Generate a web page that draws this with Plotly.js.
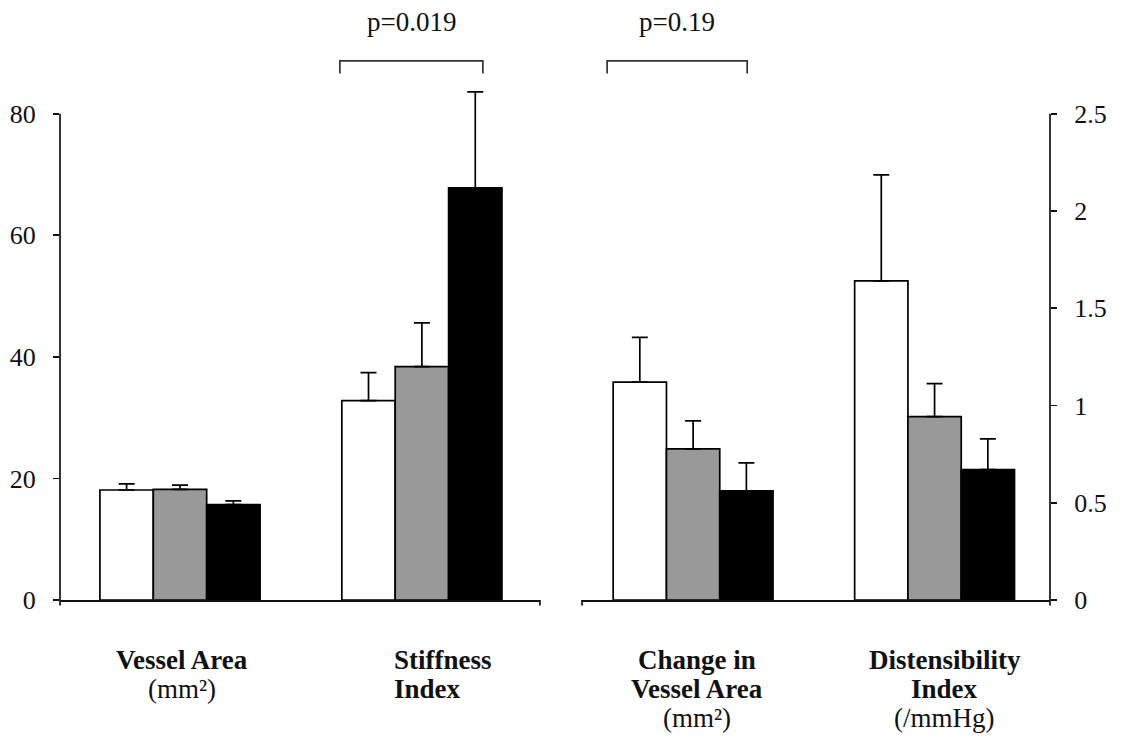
<!DOCTYPE html>
<html>
<head>
<meta charset="utf-8">
<script src="https://cdn.plot.ly/plotly-3.0.1.min.js"></script>
<style>html,body{margin:0;padding:0;background:#fff;}#chart{width:1126px;height:740px;}</style>
</head>
<body>
<div id="chart"></div>
<script>
// ---- data ----
var leftCategories = ['Vessel Area', 'Stiffness Index'];
var rightCategories = ['Change in Vessel Area', 'Distensibility Index'];

var leftWhite = [18.1, 32.8];
var leftGray = [18.2, 38.4];
var leftBlack = [15.7, 67.8];
var leftWhiteErr = [1.0, 4.6];
var leftGrayErr = [0.7, 7.2];
var leftBlackErr = [0.6, 15.8];

var rightWhite = [1.12, 1.641];
var rightGray = [0.777, 0.943];
var rightBlack = [0.561, 0.670];
var rightWhiteErr = [0.23, 0.545];
var rightGrayErr = [0.144, 0.170];
var rightBlackErr = [0.144, 0.158];

var leftTicks = [0, 20, 40, 60, 80];
var rightTicks = [0, 0.5, 1, 1.5, 2, 2.5];
var rightTickText = ['0', '0.5', '1', '1.5', '2', '2.5'];

var labelBoldLines = [['Vessel Area'], ['Stiffness', 'Index'], ['Change in', 'Vessel Area'], ['Distensibility', 'Index']];
var labelUnits = ['(mm\u00B2)', '', '(mm\u00B2)', '(/mmHg)'];
var pValues = ['p=0.019', 'p=0.19'];

// ---- styles ----
var FONT = 'Liberation Serif, Times New Roman, serif';
var fills = ['#ffffff', '#999999', '#000000'];
var LW = 1.7;
var leftMax = leftTicks[leftTicks.length - 1];      // axis line ends at last tick
var rightMax = rightTicks[rightTicks.length - 1];
var headroom = 90 / 80;                               // extra space above the axes for error bar / brackets

function barTrace(x, y, err, fill, xa, ya) {
  return {
    type: 'bar', x: x, y: y, xaxis: xa, yaxis: ya, cliponaxis: false,
    marker: {color: fill, line: {color: '#000', width: LW}},
    error_y: {type: 'data', symmetric: false, array: err,
              arrayminus: err.map(function(){return 0;}),
              color: '#000', thickness: LW, width: 8},
    showlegend: false, hoverinfo: 'x+y'
  };
}

var data = [
  barTrace(leftCategories, leftWhite, leftWhiteErr, fills[0], 'x', 'y'),
  barTrace(leftCategories, leftGray, leftGrayErr, fills[1], 'x', 'y'),
  barTrace(leftCategories, leftBlack, leftBlackErr, fills[2], 'x', 'y'),
  barTrace(rightCategories, rightWhite, rightWhiteErr, fills[0], 'x2', 'y2'),
  barTrace(rightCategories, rightGray, rightGrayErr, fills[1], 'x2', 'y2'),
  barTrace(rightCategories, rightBlack, rightBlackErr, fills[2], 'x2', 'y2')
];

var axisFont = {family: FONT, size: 26, color: '#111'};

function bracket(xa, ya, x0, x1, yTop, yBot) {
  return {type: 'path', xref: xa, yref: ya,
          path: 'M' + x0 + ',' + yBot + ' L' + x0 + ',' + yTop + ' L' + x1 + ',' + yTop + ' L' + x1 + ',' + yBot,
          line: {color: '#333', width: LW}};
}

// category label annotations, one per line
var labelRefs = [
  {xref: 'x', x: leftCategories[0], xshift: 2, anchor: 'center'},
  {xref: 'x', x: leftCategories[1], xshift: -30, anchor: 'left'},
  {xref: 'x2', x: rightCategories[0], xshift: 4, anchor: 'center'},
  {xref: 'x2', x: rightCategories[1], xshift: 10, anchor: 'center'}
];
var lineY = [-60, -89, -118];
var annotations = [];
labelRefs.forEach(function(r, i) {
  var lines = labelBoldLines[i].map(function(t){ return '<b>' + t + '</b>'; });
  if (labelUnits[i]) lines.push(labelUnits[i]);
  lines.forEach(function(t, j) {
    annotations.push({xref: r.xref, yref: 'paper', x: r.x, xshift: r.xshift,
      y: 0, yshift: lineY[j], yanchor: 'middle', xanchor: r.anchor, align: r.anchor,
      text: t, showarrow: false,
      font: {family: FONT, size: 27, color: '#111'}});
  });
});
var pY = 1.189 / headroom;   // in paper units: top of axes is 1/headroom
annotations.push(
  {xref: 'x', yref: 'paper', x: 0.956, y: pY, yanchor: 'middle', xanchor: 'center',
   text: pValues[0], showarrow: false, font: {family: FONT, size: 27, color: '#111'}},
  {xref: 'x2', yref: 'paper', x: -0.066, y: pY, yanchor: 'middle', xanchor: 'center',
   text: pValues[1], showarrow: false, font: {family: FONT, size: 27, color: '#111'}}
);

var layout = {
  width: 1126, height: 740,
  margin: {l: 60, r: 76, t: 600 - 486 * headroom, b: 140},
  paper_bgcolor: '#fff', plot_bgcolor: '#fff',
  barmode: 'group', bargap: 0.338, bargroupgap: 0,
  font: {family: FONT, color: '#111'},
  showlegend: false,
  xaxis: {domain: [0, 0.4848], anchor: 'y', type: 'category',
          range: [-0.496, 1.488], showline: true, linecolor: '#111', linewidth: LW,
          showticklabels: false, ticks: '', showgrid: false, zeroline: false, fixedrange: true},
  xaxis2: {domain: [0.5273, 1], anchor: 'y2', type: 'category',
           range: [-0.46, 1.478], showline: true, linecolor: '#111', linewidth: LW,
           showticklabels: false, ticks: '', showgrid: false, zeroline: false, fixedrange: true},
  yaxis: {anchor: 'x', side: 'left', range: [0, leftMax * headroom], tickvals: leftTicks,
          ticks: 'outside', ticklen: 6, tickwidth: LW, tickcolor: '#111',
          showline: false, showgrid: false, zeroline: false,
          tickfont: axisFont, ticklabelstandoff: 12, fixedrange: true},
  yaxis2: {anchor: 'x2', side: 'right', range: [0, rightMax * headroom], tickvals: rightTicks, ticktext: rightTickText,
           ticks: 'outside', ticklen: 6, tickwidth: LW, tickcolor: '#111',
           showline: false, showgrid: false, zeroline: false,
           tickfont: axisFont, ticklabelstandoff: 12, fixedrange: true},
  shapes: [
    // vertical axis lines ending at the top tick
    {type: 'line', xref: 'x domain', yref: 'y', x0: 0, x1: 0, y0: 0, y1: leftMax,
     line: {color: '#111', width: LW}},
    {type: 'line', xref: 'x2 domain', yref: 'y2', x0: 1, x1: 1, y0: 0, y1: rightMax,
     line: {color: '#111', width: LW}},
    bracket('x', 'y', 0.661, 1.252, leftMax * 1.109, leftMax * 1.083),
    bracket('x2', 'y2', -0.356, 0.224, rightMax * 1.109, rightMax * 1.083),
    {type: 'line', xref: 'x domain', yref: 'paper', x0: 1, x1: 1, y0: 0, y1: -0.01,
     line: {color: '#111', width: LW}},
    {type: 'line', xref: 'x2 domain', yref: 'paper', x0: 0, x1: 0, y0: 0, y1: -0.01,
     line: {color: '#111', width: LW}},
    {type: 'line', xref: 'x domain', yref: 'paper', x0: 0, x1: 0, y0: 0, y1: -0.01,
     line: {color: '#111', width: LW}},
    {type: 'line', xref: 'x2 domain', yref: 'paper', x0: 1, x1: 1, y0: 0, y1: -0.01,
     line: {color: '#111', width: LW}}
  ],
  annotations: annotations
};

Plotly.newPlot('chart', data, layout, {displayModeBar: false, staticPlot: true});
</script>
</body>
</html>
